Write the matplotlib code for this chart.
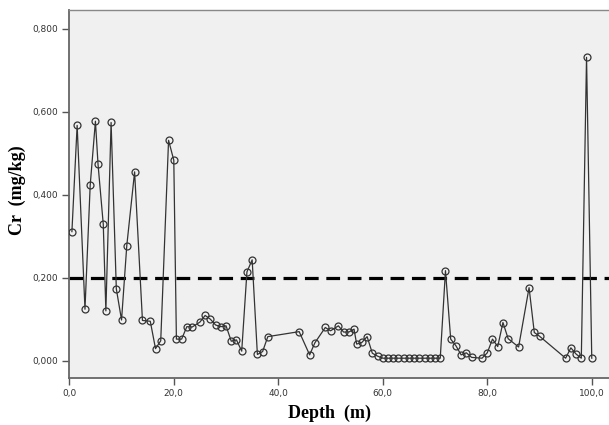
import matplotlib
matplotlib.use("Agg")
import matplotlib.pyplot as plt
from matplotlib.ticker import FuncFormatter

# Depth (m) and Cr (mg/kg)
depth = [0.5, 1.5, 3, 4, 5, 5.5, 6.5, 7, 8, 9, 10, 11, 12.5, 14, 15.5, 16.5, 17.5,
         19, 20, 20.5, 21.5, 22.5, 23.5, 25, 26, 27, 28, 29, 30, 31, 32, 33, 34, 35,
         36, 37, 38, 44, 46, 47, 49, 50, 51.5, 52.5, 53.5, 54.5, 55, 56, 57, 58, 59,
         60, 61, 62, 63, 64, 65, 66, 67, 68, 69, 70, 71,
         72, 73, 74, 75, 76, 77, 79, 80, 81, 82, 83, 84, 86, 88, 89, 90,
         95, 96, 97, 98, 99, 100]
cr = [0.311, 0.567, 0.124, 0.423, 0.577, 0.473, 0.329, 0.120, 0.574, 0.173, 0.098,
      0.277, 0.455, 0.097, 0.095, 0.029, 0.048,
      0.531, 0.483, 0.052, 0.052, 0.082, 0.081, 0.093, 0.109, 0.100, 0.086, 0.082,
      0.084, 0.047, 0.050, 0.023, 0.214, 0.243,
      0.015, 0.022, 0.058, 0.070, 0.014, 0.043, 0.080, 0.072, 0.084, 0.069, 0.069,
      0.076, 0.040, 0.044, 0.058, 0.018, 0.011,
      0.006, 0.006, 0.006, 0.006, 0.006, 0.006, 0.006, 0.006, 0.006, 0.006, 0.006, 0.006,
      0.217, 0.052, 0.036, 0.014, 0.019, 0.008, 0.006, 0.019, 0.052, 0.034, 0.092,
      0.053, 0.033, 0.176, 0.068, 0.059,
      0.006, 0.031, 0.016, 0.006, 0.731, 0.006]

limit = 0.2
x_ticks = [0, 20, 40, 60, 80, 100]
y_ticks = [0.0, 0.2, 0.4, 0.6, 0.8]

fig = plt.figure(figsize=(6.09, 4.25), dpi=100)
ax = fig.add_axes([69.3 / 609, (425 - 378) / 425, 1 - 69.3 / 609, (378 - 10) / 425])
ax.set_facecolor("#f0f0f0")

ax.axhline(limit, color="black", lw=2.3, dashes=(4.3, 2.4), zorder=2)
ax.plot(depth, cr, color="#333333", lw=0.9, marker="o", markersize=5,
        markerfacecolor="none", markeredgecolor="#333333", markeredgewidth=0.9, zorder=3)

ax.set_xlim(0, 103.3)
ax.set_ylim(-0.0417, 0.845)
ax.set_xticks(x_ticks)
ax.set_yticks(y_ticks)
ax.xaxis.set_major_formatter(FuncFormatter(lambda v, p: f"{v:.1f}".replace(".", ",")))
ax.yaxis.set_major_formatter(FuncFormatter(lambda v, p: f"{v:.3f}".replace(".", ",")))
ax.tick_params(direction="out", length=5, width=1, color="#555555",
               labelsize=6.5, labelcolor="#333333", pad=3)

for side in ["left", "bottom"]:
    ax.spines[side].set_color("#666666")
    ax.spines[side].set_linewidth(1.3)
ax.spines["top"].set_color("#888888")
ax.spines["top"].set_linewidth(1)
ax.spines["right"].set_visible(False)

fig.text(329 / 609, 1 - 413 / 425, "Depth  (m)", ha="center", va="center",
         family="Liberation Serif", fontweight="bold", fontsize=13)
fig.text(17 / 609, 1 - 190 / 425, "Cr  (mg/kg)", ha="center", va="center", rotation=90,
         family="Liberation Serif", fontweight="bold", fontsize=13)

fig.savefig("out.png", dpi=100)
